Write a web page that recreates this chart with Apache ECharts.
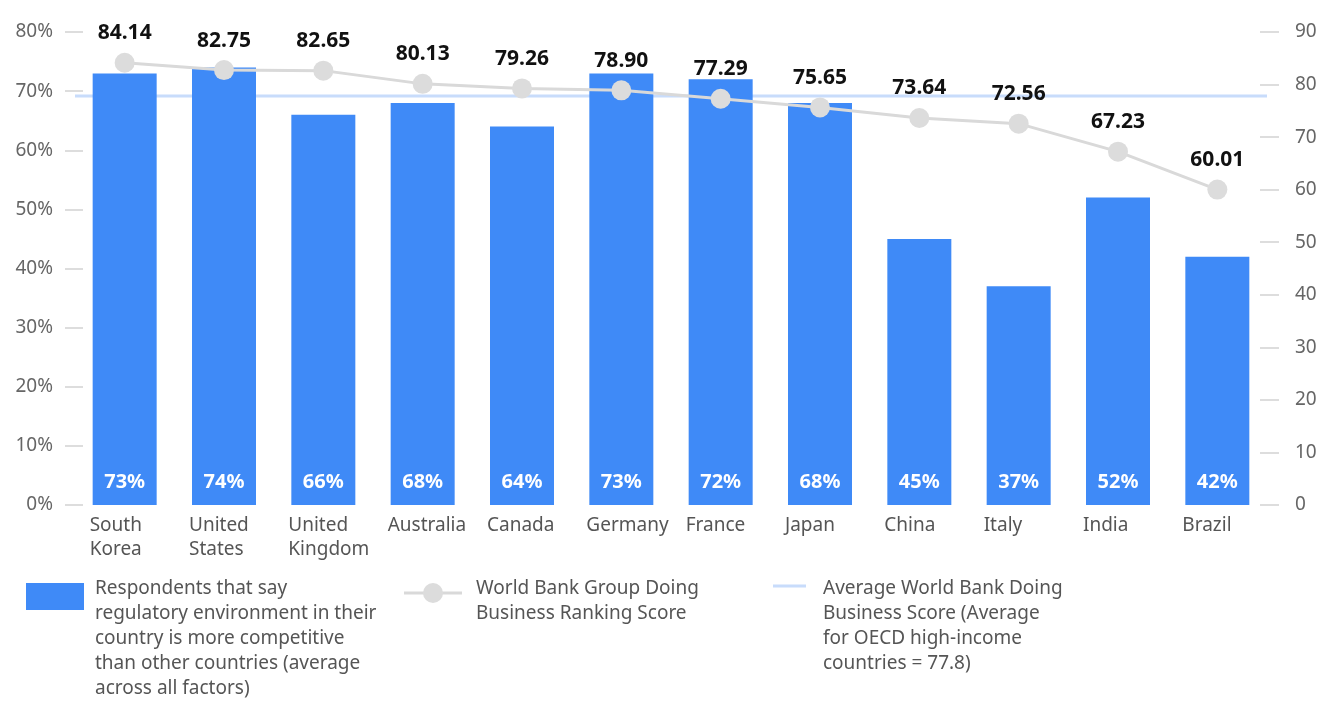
<!DOCTYPE html>
<html>
<head>
<meta charset="utf-8">
<title>Regulatory competitiveness vs. Doing Business score</title>
<script src="https://cdn.jsdelivr.net/npm/echarts@6/dist/echarts.min.js"></script>
<style>
  html, body { margin: 0; padding: 0; background: #ffffff; }
  #chart { width: 1333px; height: 704px; }
</style>
</head>
<body>
<div id="chart"></div>
<script>
// Countries along the x axis
const countries = ['South\nKorea', 'United\nStates', 'United\nKingdom', 'Australia', 'Canada',
  'Germany', 'France', 'Japan', 'China', 'Italy', 'India', 'Brazil'];

// Share of respondents rating their regulatory environment as more competitive (%)
const competitiveShare = [73, 74, 66, 68, 64, 73, 72, 68, 45, 37, 52, 42];

// World Bank Group Doing Business ranking score
const doingBusinessScore = [84.14, 82.75, 82.65, 80.13, 79.26, 78.90, 77.29, 75.65, 73.64, 72.56, 67.23, 60.01];

// OECD high-income average Doing Business score
const oecdAverage = 77.8;

// Axis ranges
const leftAxisMax = 80;
const rightAxisMax = 90;
const axisStep = 10;

const seriesNames = [
  'Respondents that say\nregulatory environment in their\ncountry is more competitive\nthan other countries (average\nacross all factors)',
  'World Bank Group Doing\nBusiness Ranking Score',
  'Average World Bank Doing\nBusiness Score (Average\nfor OECD high-income\ncountries = 77.8)'
];

const FONT = '"Noto Sans", "Open Sans", sans-serif';
const BLUE = '#3f8af7';
const GREY_LINE = '#d9d9d9';
const GREY_DOT = '#dcdcdc';
const AVG_BLUE = '#c8dcfb';
const AXIS_TEXT = '#666666';
const LEGEND_TEXT = '#555555';

const chart = echarts.init(document.getElementById('chart'), null, { renderer: 'canvas' });

// Legend block under the plot: icon + wrapped caption for each series
const legendCaption = (x, text) => ({
  type: 'text', left: x, top: 576, silent: true,
  style: { text: text, fontFamily: FONT, fontSize: 19, lineHeight: 25, fill: LEGEND_TEXT }
});

const legendGraphics = [
  { type: 'rect', silent: true, shape: { x: 26, y: 583, width: 58, height: 27 }, style: { fill: BLUE } },
  legendCaption(95, seriesNames[0]),
  { type: 'line', silent: true, shape: { x1: 404, y1: 593, x2: 462, y2: 593 }, style: { stroke: GREY_LINE, lineWidth: 3 } },
  { type: 'circle', silent: true, shape: { cx: 433, cy: 593, r: 10 }, style: { fill: GREY_DOT } },
  legendCaption(476, seriesNames[1]),
  { type: 'line', silent: true, shape: { x1: 773, y1: 586, x2: 806, y2: 586 }, style: { stroke: AVG_BLUE, lineWidth: 3 } },
  legendCaption(823, seriesNames[2])
];

chart.setOption({
  animation: false,
  backgroundColor: '#ffffff',
  textStyle: { fontFamily: FONT },
  grid: { left: 75, right: 66, top: 32, bottom: 199 },
  graphic: legendGraphics,
  xAxis: [
    {
      type: 'category',
      data: countries,
      axisLine: { show: false },
      axisTick: { show: false },
      axisLabel: {
        margin: 9,
        interval: 0,
        formatter: v => '{c|' + v + '}',
        rich: {
          c: { width: 70, align: 'left', fontFamily: FONT, fontSize: 19, lineHeight: 24, color: LEGEND_TEXT }
        }
      }
    },
    {
      // hidden 0..1 span axis so the average line runs across the full plot width
      type: 'value', min: 0, max: 1, show: false
    }
  ],
  yAxis: [
    {
      type: 'value', min: 0, max: leftAxisMax, interval: axisStep,
      offset: -8,
      axisLine: { show: false },
      axisTick: { show: true, length: 18, lineStyle: { color: '#dddddd', width: 2 } },
      splitLine: { show: false },
      axisLabel: { formatter: '{value}%', margin: 30, fontFamily: FONT, fontSize: 19, color: AXIS_TEXT }
    },
    {
      type: 'value', min: 0, max: rightAxisMax, interval: axisStep,
      offset: -7, position: 'right',
      axisLine: { show: false },
      axisTick: { show: true, length: 19, lineStyle: { color: '#dddddd', width: 2 } },
      splitLine: { show: false },
      axisLabel: { margin: 35, fontFamily: FONT, fontSize: 19, color: AXIS_TEXT }
    }
  ],
  series: [
    {
      // OECD average reference line, on the bottom layer beneath the bars
      name: seriesNames[2],
      type: 'line',
      xAxisIndex: 1,
      yAxisIndex: 1,
      data: [[0, oecdAverage], [1, oecdAverage]],
      symbol: 'none',
      silent: true,
      zlevel: 0,
      z: 1,
      lineStyle: { color: AVG_BLUE, width: 3 }
    },
    {
      name: seriesNames[0],
      type: 'bar',
      yAxisIndex: 0,
      data: competitiveShare,
      barWidth: 64,
      zlevel: 1,
      z: 2,
      itemStyle: { color: BLUE },
      label: {
        show: true,
        position: 'insideBottom',
        distance: 13,
        formatter: p => p.value + '%',
        fontFamily: FONT, fontSize: 20, fontWeight: 'bold', color: '#ffffff'
      }
    },
    {
      name: seriesNames[1],
      type: 'line',
      yAxisIndex: 1,
      data: doingBusinessScore,
      zlevel: 1,
      z: 3,
      symbol: 'circle',
      symbolSize: 20,
      itemStyle: { color: GREY_DOT },
      lineStyle: { color: GREY_LINE, width: 3 },
      label: {
        show: true,
        position: 'top',
        distance: 9,
        formatter: p => p.value.toFixed(2),
        fontFamily: FONT, fontSize: 21, fontWeight: 'bold', color: '#111111'
      }
    }
  ]
});
</script>
</body>
</html>
